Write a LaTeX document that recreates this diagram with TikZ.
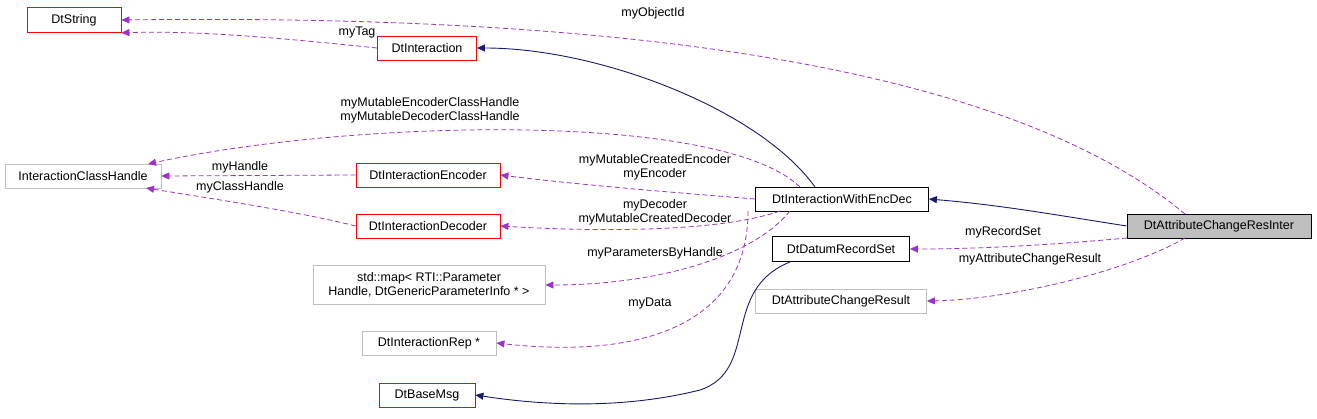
\documentclass[tikz,border=0pt]{standalone}
\usepackage{fontspec}
\setmainfont{Liberation Sans}
\usetikzlibrary{arrows.meta}
\definecolor{dpurple}{HTML}{9A32CD}
\definecolor{dnavy}{HTML}{191970}
\definecolor{dgray}{HTML}{BFBFBF}
\begin{document}
\begin{tikzpicture}[x=1pt,y=-1pt,
  font=\fontsize{12.5}{14}\selectfont,
  box/.style={draw,line width=0.8pt,inner sep=0pt,fill=white,align=center},
  redbox/.style={box,draw=red},
  graybox/.style={box,draw=dgray},
  blackbox/.style={box,draw=black},
  uses/.style={dpurple,dashed,dash pattern=on 5pt off 3pt,line width=0.8pt,-{Triangle[length=8pt,width=7pt]}},
  inh/.style={dnavy,line width=0.9pt,-{Triangle[length=8pt,width=7pt]}},
  lbl/.style={align=center,inner sep=0pt}]
\useasboundingbox (0,0) rectangle (1317,419);
\node[redbox,minimum width=94pt,minimum height=25pt] (str) at (74,20) {DtString};
\node[redbox,minimum width=99pt,minimum height=24pt] (int) at (427,48) {DtInteraction};
\node[graybox,minimum width=156pt,minimum height=24pt] (ich) at (83,176) {InteractionClassHandle};
\node[redbox,minimum width=144pt,minimum height=24pt] (enc) at (428,175) {DtInteractionEncoder};
\node[redbox,minimum width=144pt,minimum height=24pt] (dec) at (428,226) {DtInteractionDecoder};
\node[blackbox,minimum width=173pt,minimum height=24pt] (wed) at (842,199) {DtInteractionWithEncDec};
\node[box,fill=dgray,draw=black,minimum width=184pt,minimum height=24pt] (acri) at (1219,226) {DtAttributeChangeResInter};
\node[blackbox,minimum width=137pt,minimum height=25pt] (drs) at (841,249) {DtDatumRecordSet};
\node[graybox,minimum width=232pt,minimum height=39pt] (map) at (429,285) {std::map\textless{} RTI::Parameter\\Handle, DtGenericParameterInfo * \textgreater};
\node[graybox,minimum width=171pt,minimum height=24pt] (acr) at (841,301) {DtAttributeChangeResult};
\node[graybox,minimum width=134pt,minimum height=24pt] (rep) at (429,343) {DtInteractionRep *};
\node[redbox,minimum width=96pt,minimum height=24pt] (bm) at (427,395) {DtBaseMsg};

\draw[uses] (1185,214) .. controls (1000,60) and (600,14) .. (str.east);
\node[lbl] (l1) at (653,13) {myObjectId};
\draw[uses] (int.west) .. controls (300,40) and (200,30) .. (str.south east);
\node[lbl] (l2) at (357,33) {myTag};
\draw[inh] (815,187) .. controls (760,110) and (600,48) .. (int.east);
\draw[uses] (800,187) .. controls (720,110) and (350,120) .. (148,164);
\node[lbl] (l3) at (430,110) {myMutableEncoderClassHandle\\myMutableDecoderClassHandle};
\draw[uses] (enc.west) -- (ich.east);
\node[lbl] (l4) at (240,167) {myHandle};
\draw[uses] (dec.west) .. controls (300,212) and (220,200) .. (146,188);
\node[lbl] (l5) at (240,187) {myClassHandle};
\draw[uses] (wed.west) .. controls (680,193) and (580,185) .. (enc.east);
\node[lbl] (l6) at (655,167) {myMutableCreatedEncoder\\myEncoder};
\draw[uses] (780,211) .. controls (720,232) and (600,232) .. (dec.east);
\node[lbl] (l7) at (655,212) {myDecoder\\myMutableCreatedDecoder};
\draw[uses] (790,211) .. controls (750,260) and (650,285) .. (map.east);
\node[lbl] (l8) at (655,253) {myParametersByHandle};
\draw[uses] (748,211) .. controls (748,320) and (650,360) .. (rep.east);
\node[lbl] (l9) at (650,303) {myData};
\draw[inh] (acri.west) .. controls (1050,214) and (1000,205) .. (wed.east);
\draw[uses] (1127,238) .. controls (1050,245) and (980,249) .. (drs.east);
\node[lbl] (l10) at (1003,232) {myRecordSet};
\draw[uses] (1185,238) .. controls (1120,275) and (1000,300) .. (acr.east);
\node[lbl] (l11) at (1030,259) {myAttributeChangeResult};
\draw[inh] (790,262) .. controls (720,290) and (760,370) .. (700,390) .. controls (620,410) and (540,405) .. (bm.east);
\end{tikzpicture}
\end{document}
